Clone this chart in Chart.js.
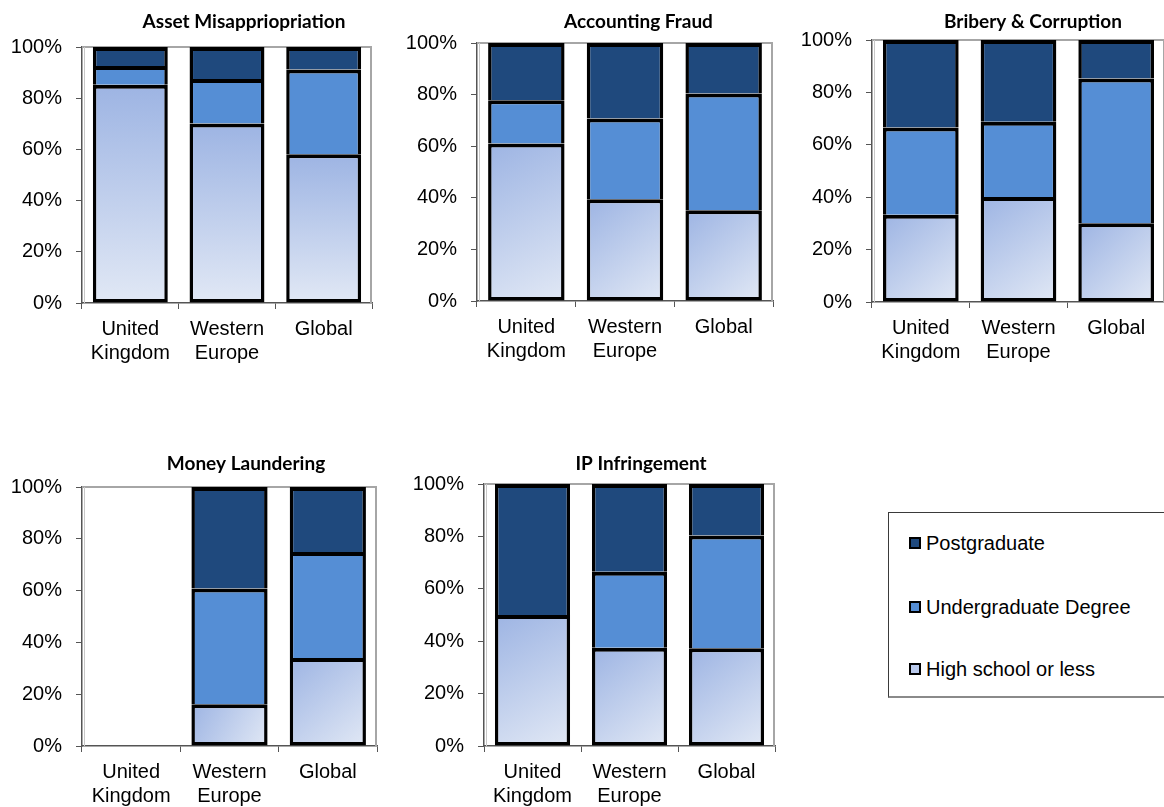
<!DOCTYPE html>
<html>
<head>
<meta charset="utf-8">
<script src="https://cdn.jsdelivr.net/npm/chart.js@4.4.1/dist/chart.umd.min.js"></script>
<style>
  html, body { margin: 0; padding: 0; background: #fff; }
  body { width: 1164px; height: 807px; position: relative; overflow: hidden; font-family: "Liberation Sans", Arial, sans-serif; }
  canvas.panel { position: absolute; }
  #legend { position: absolute; left: 888px; top: 512px; width: 340px; height: 186px;
            border: 1px solid #3a3a3a; border-bottom: 2px solid #8a8a8a; box-sizing: border-box; }
  .entry { position: absolute; left: 20px; height: 24px; display: flex; align-items: center;
           font-size: 20px; color: #000; white-space: nowrap; }
  .swatch { width: 12px; height: 12px; box-sizing: border-box; border: 2px solid #000; margin-right: 5px; }
</style>
</head>
<body>
<div id="legend"></div>
<script>
// Categories, series and tick labels
const categories = [['United', 'Kingdom'], ['Western', 'Europe'], 'Global'];
const seriesLabels = ['High school or less', 'Undergraduate Degree', 'Postgraduate'];
const yTickValues = [0, 20, 40, 60, 80, 100];
const panelTitles = ['Asset Misappriopriation', 'Accounting Fraud', 'Bribery & Corruption', 'Money Laundering', 'IP Infringement'];

// Share of fraudsters by education level (%), per region: UK, Western Europe, Global
const assetHighSchool        = [85.3, 70.1, 58.1];
const assetUndergraduate     = [7.3, 17.4, 33.1];
const assetPostgraduate      = [7.4, 12.5, 8.8];

const fraudHighSchool        = [61.0, 39.4, 35.2];
const fraudUndergraduate     = [16.8, 31.3, 45.2];
const fraudPostgraduate      = [22.2, 29.3, 19.6];

const briberyHighSchool      = [33.3, 40.1, 30.1];
const briberyUndergraduate   = [33.3, 28.7, 55.2];
const briberyPostgraduate    = [33.4, 31.2, 14.7];

const launderingHighSchool   = [null, 16.1, 34.0];
const launderingUndergraduate= [null, 44.7, 40.9];
const launderingPostgraduate = [null, 39.2, 25.1];

const ipHighSchool           = [50.0, 37.5, 37.3];
const ipUndergraduate        = [null, 29.0, 43.0];
const ipPostgraduate         = [50.0, 33.5, 19.7];

const panelSeries = [
  [assetHighSchool, assetUndergraduate, assetPostgraduate],
  [fraudHighSchool, fraudUndergraduate, fraudPostgraduate],
  [briberyHighSchool, briberyUndergraduate, briberyPostgraduate],
  [launderingHighSchool, launderingUndergraduate, launderingPostgraduate],
  [ipHighSchool, ipUndergraduate, ipPostgraduate]
];

// Plot-area rectangles on the page (left, top, right, bottom), title centre offset, gradient style
const panelLayout = [
  { l: 82,  t: 47,  r: 372,  b: 303, titleDx: 17,   titleY: 22,  vertical: true },
  { l: 477, t: 43,  r: 773,  b: 301, titleDx: 13.5, titleY: 22,  vertical: false },
  { l: 872, t: 40,  r: 1165, b: 302, titleDx: 14.5, titleY: 22,  vertical: false },
  { l: 82,  t: 487, r: 377,  b: 746, titleDx: 16.5, titleY: 464, vertical: false },
  { l: 484, t: 484, r: 775,  b: 746, titleDx: 11.5, titleY: 464, vertical: false }
];

const COLORS = {
  post: '#1f497d',
  under: '#558ed5',
  highDark: '#9db4e3',
  highLight: '#e1e8f5',
  highSwatch: '#b9c9ec'
};
const Y_AXIS_W = 82, TOP_PAD = 40, X_AXIS_H = 66, RIGHT_PAD = 4;
const AXIS_FONT = { family: '"Liberation Sans", Arial, sans-serif', size: 20 };
const BAR_BORDER = { top: 4, left: 3.5, right: 3.5, bottom: 3.5 };

// Gradient fill for the lowest segment, computed from each bar's own box
const gradientFill = {
  id: 'gradientFill',
  beforeDatasetsDraw(chart, args, opts) {
    const ctx = chart.ctx;
    const meta = chart.getDatasetMeta(0);
    meta.data.forEach(el => {
      if (el.skip || el.y == null || isNaN(el.y)) return;
      const left = el.x - el.width / 2, right = el.x + el.width / 2;
      const top = Math.min(el.y, el.base), bottom = Math.max(el.y, el.base);
      const g = opts.vertical
        ? ctx.createLinearGradient(0, top, 0, bottom)
        : ctx.createLinearGradient(left, top, right, bottom);
      g.addColorStop(0, COLORS.highDark);
      g.addColorStop(1, COLORS.highLight);
      el.options = Object.assign({}, el.options, { backgroundColor: g });
    });
  }
};

// Grey plot-area frame behind the bars
const plotFrame = {
  id: 'plotFrame',
  beforeDatasetsDraw(chart) {
    const { ctx, chartArea: a } = chart;
    ctx.save();
    ctx.strokeStyle = '#a6a6a6';
    ctx.lineWidth = 2;
    ctx.beginPath();
    ctx.moveTo(a.left + 1, a.top);
    ctx.lineTo(a.right - 1, a.top);
    ctx.lineTo(a.right - 1, a.bottom);
    ctx.stroke();
    ctx.strokeStyle = '#c8c8c8';
    ctx.lineWidth = 1;
    ctx.beginPath();
    ctx.moveTo(a.left + 2.5, a.top);
    ctx.lineTo(a.left + 2.5, a.bottom);
    ctx.stroke();
    ctx.restore();
  }
};

// Bold panel heading above each plot
const panelHeading = {
  id: 'panelHeading',
  afterDraw(chart, args, opts) {
    const { ctx, chartArea: a } = chart;
    ctx.save();
    ctx.font = 'bold 19px Lato, "Open Sans", sans-serif';
    ctx.fillStyle = '#000';
    ctx.textAlign = 'center';
    ctx.textBaseline = 'middle';
    ctx.fillText(opts.text, (a.left + a.right) / 2 + opts.dx, opts.y);
    ctx.restore();
  }
};

panelLayout.forEach((p, i) => {
  const canvas = document.createElement('canvas');
  canvas.className = 'panel';
  const w = (p.r - p.l) + Y_AXIS_W + RIGHT_PAD;
  const h = (p.b - p.t) + TOP_PAD + X_AXIS_H;
  const left = p.l - Y_AXIS_W, top = p.t - TOP_PAD;
  canvas.width = w; canvas.height = h;
  canvas.style.left = left + 'px';
  canvas.style.top = top + 'px';
  canvas.style.width = w + 'px';
  canvas.style.height = h + 'px';
  document.body.appendChild(canvas);

  const [hs, ug, pg] = panelSeries[i];
  const common = { borderColor: '#000', borderWidth: BAR_BORDER, barPercentage: 0.775, categoryPercentage: 1, inflateAmount: 0 };

  new Chart(canvas, {
    type: 'bar',
    data: {
      labels: categories,
      datasets: [
        Object.assign({ label: seriesLabels[0], data: hs, backgroundColor: COLORS.highSwatch, borderSkipped: false }, common),
        Object.assign({ label: seriesLabels[1], data: ug, backgroundColor: COLORS.under, borderSkipped: 'start' }, common),
        Object.assign({ label: seriesLabels[2], data: pg, backgroundColor: COLORS.post, borderSkipped: 'start' }, common)
      ]
    },
    options: {
      responsive: false,
      animation: false,
      devicePixelRatio: 1,
      layout: { padding: { left: 0, right: RIGHT_PAD, top: TOP_PAD, bottom: 0 } },
      plugins: {
        legend: { display: false },
        tooltip: { enabled: false },
        gradientFill: { vertical: p.vertical },
        panelHeading: { text: panelTitles[i], dx: p.titleDx, y: p.titleY - top }
      },
      scales: {
        x: {
          stacked: true,
          grid: { offset: true, drawOnChartArea: false, drawTicks: true, tickLength: 6, color: '#555', lineWidth: 1 },
          border: { display: true, color: '#555', width: 1.5 },
          ticks: { color: '#000', font: AXIS_FONT, padding: 8, maxRotation: 0, autoSkip: false },
          afterFit(scale) { scale.height = X_AXIS_H; }
        },
        y: {
          stacked: true,
          min: 0, max: 100,
          afterBuildTicks(scale) { scale.ticks = yTickValues.map(v => ({ value: v })); },
          grid: { drawOnChartArea: false, drawTicks: true, tickLength: 6, color: '#555', lineWidth: 1 },
          border: { display: true, color: '#555', width: 1.5 },
          ticks: { color: '#000', font: AXIS_FONT, padding: 14, callback: v => v + '%' },
          afterFit(scale) { scale.width = Y_AXIS_W; }
        }
      }
    },
    plugins: [plotFrame, gradientFill, panelHeading]
  });
});

// Legend listing the series from top of stack to bottom
const legendTops = [18, 82, 144];
const swatchColors = [COLORS.post, COLORS.under, COLORS.highSwatch];
const legend = document.getElementById('legend');
[2, 1, 0].forEach((s, k) => {
  const row = document.createElement('div');
  row.className = 'entry';
  row.style.top = legendTops[k] + 'px';
  const sw = document.createElement('span');
  sw.className = 'swatch';
  sw.style.background = swatchColors[k];
  const txt = document.createElement('span');
  txt.textContent = seriesLabels[s];
  row.appendChild(sw); row.appendChild(txt);
  legend.appendChild(row);
});
</script>
</body>
</html>
